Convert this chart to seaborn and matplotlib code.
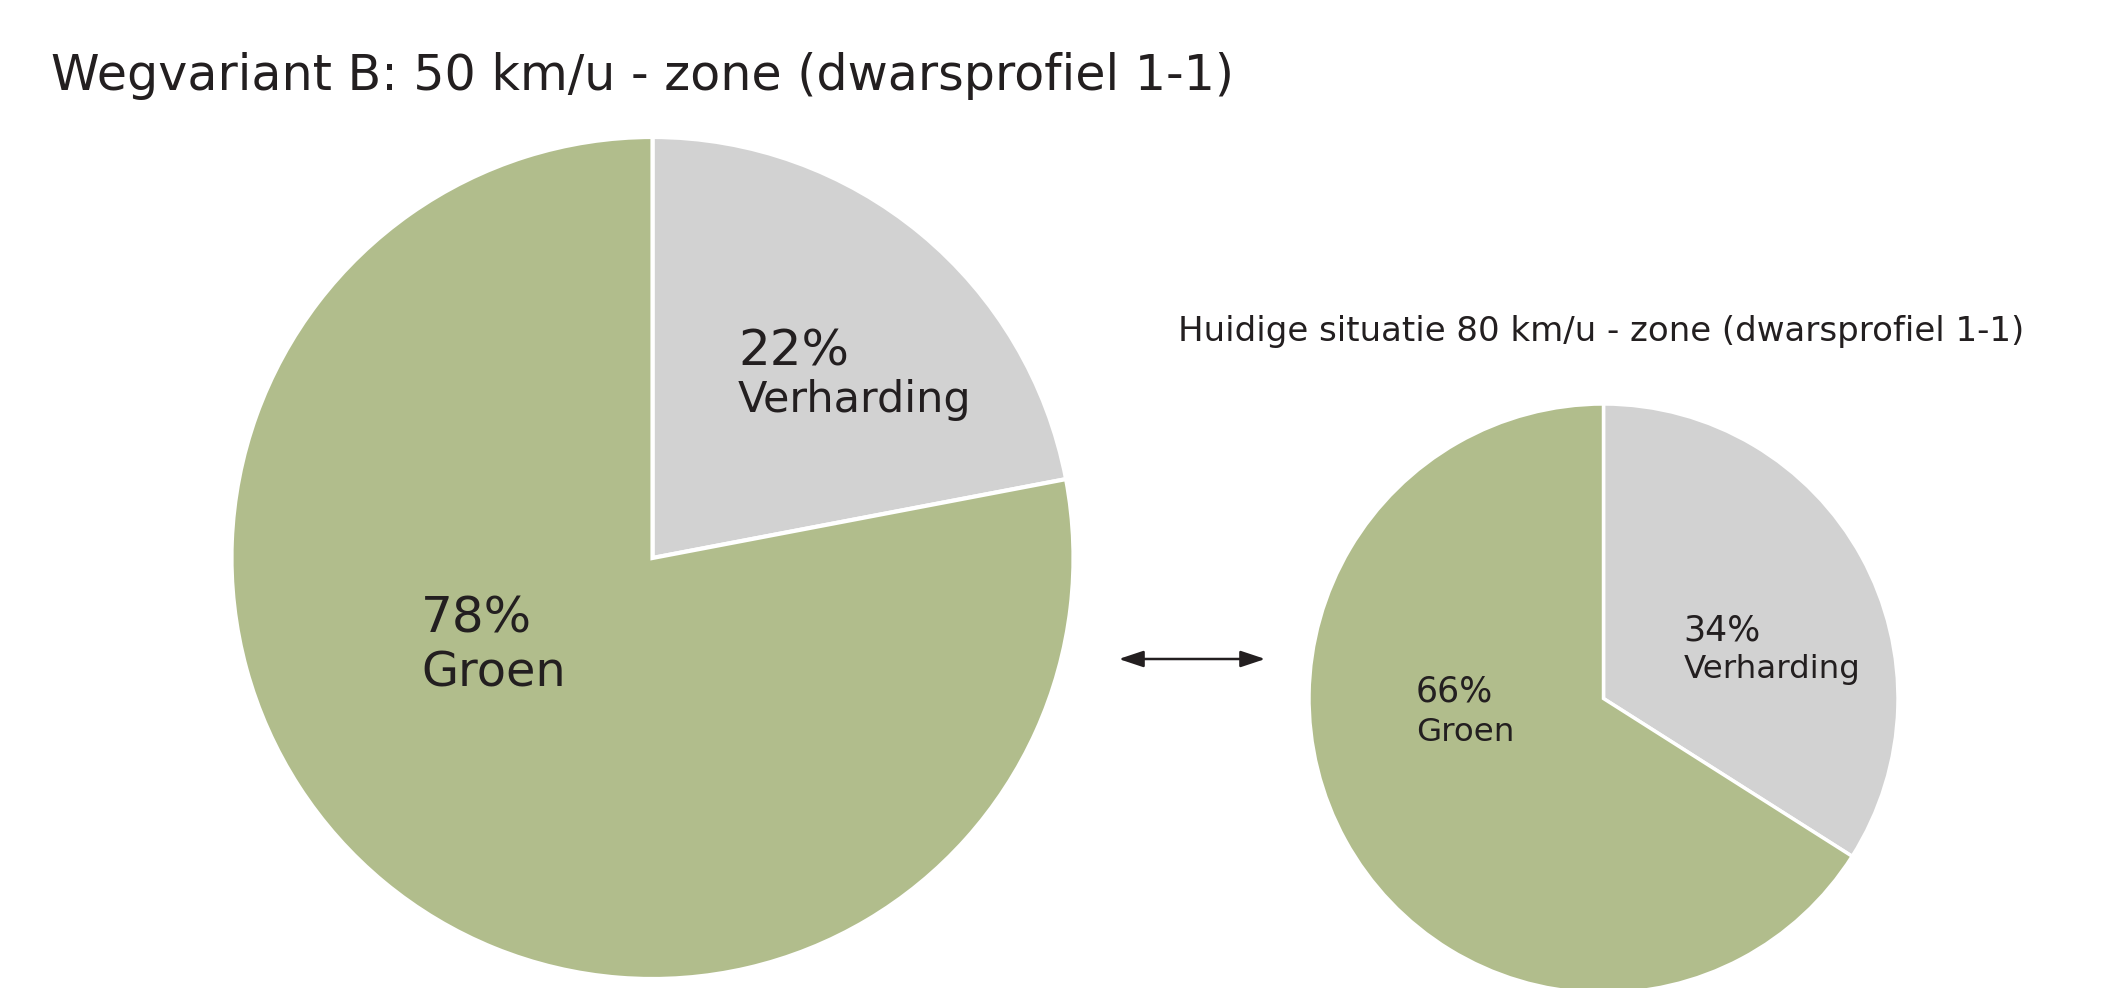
import matplotlib
matplotlib.use("Agg")
import matplotlib.pyplot as plt
import seaborn as sns

# data
categories = ["Verharding", "Groen"]
variant_b_pct = [22, 78]
huidig_pct = [34, 66]
title_main = "Wegvariant B: 50 km/u - zone (dwarsprofiel 1-1)"
title_huidig = "Huidige situatie 80 km/u - zone (dwarsprofiel 1-1)"

sns.set_theme(style="white")
plt.rcParams['font.family'] = ['DejaVu Sans']

colors = ["#D2D2D2", "#B1BD8C"]
txt_col = "#231F20"

W, H = 2118, 988
fig = plt.figure(figsize=(W / 100, H / 100), dpi=100)
fig.patch.set_facecolor("white")


def pie_axes(cx, cy, r):
    # pixel center/radius -> figure fraction axes
    return fig.add_axes([(cx - r) / W, (H - cy - r) / H, 2 * r / W, 2 * r / H])


# ---- grote taart: wegvariant B
ax1 = pie_axes(652.5, 558, 421)
ax1.pie(variant_b_pct, colors=colors, startangle=90, counterclock=False,
        radius=1, wedgeprops=dict(edgecolor="white", linewidth=3))
ax1.set_xlim(-1, 1)
ax1.set_ylim(-1, 1)
ax1.set_aspect("equal")
ax1.axis("off")

ax1.text(0.203, 0.457, f"{variant_b_pct[0]}%", fontsize=36, color=txt_col,
         ha="left", va="baseline")
ax1.text(0.203, 0.347, categories[0], fontsize=31, color=txt_col,
         ha="left", va="baseline")
ax1.text(-0.55, -0.176, f"{variant_b_pct[1]}%", fontsize=36, color=txt_col,
         ha="left", va="baseline")
ax1.text(-0.55, -0.305, categories[1], fontsize=34.5, color=txt_col,
         ha="left", va="baseline")

# ---- kleine taart: huidige situatie
ax2 = pie_axes(1603.5, 698.5, 294.5)
ax2.pie(huidig_pct, colors=colors, startangle=90, counterclock=False,
        radius=1, wedgeprops=dict(edgecolor="white", linewidth=2.5))
ax2.set_xlim(-1, 1)
ax2.set_ylim(-1, 1)
ax2.set_aspect("equal")
ax2.axis("off")

ax2.text(0.272, 0.198, f"{huidig_pct[0]}%", fontsize=25, color=txt_col,
         ha="left", va="baseline")
ax2.text(0.272, 0.071, categories[0], fontsize=23.4, color=txt_col,
         ha="left", va="baseline")
ax2.text(-0.637, -0.009, f"{huidig_pct[1]}%", fontsize=25, color=txt_col,
         ha="left", va="baseline")
ax2.text(-0.637, -0.144, categories[1], fontsize=23.4, color=txt_col,
         ha="left", va="baseline")

# titels
fig.text(51 / W, 1 - 90 / H, title_main, fontsize=35.4, color=txt_col,
         ha="left", va="baseline")
fig.text(1178 / W, 1 - 341 / H, title_huidig, fontsize=24.5, color=txt_col,
         ha="left", va="baseline")

# dubbele pijl tussen de taarten
fig.patches.append(matplotlib.patches.FancyArrowPatch(
    (1116 / W, 1 - 659 / H), (1268 / W, 1 - 659 / H),
    transform=fig.transFigure, arrowstyle="<|-|>,head_length=1.5,head_width=0.5",
    mutation_scale=10, color=txt_col, linewidth=1.8))

fig.savefig("out.png", dpi=100, facecolor="white")
